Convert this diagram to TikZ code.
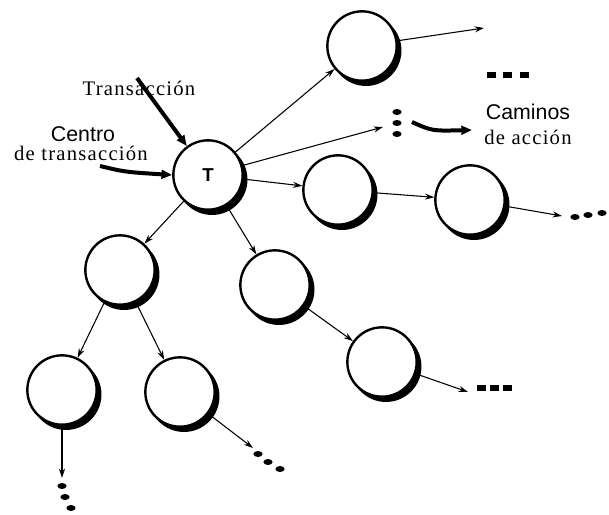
\documentclass[tikz,border=0pt]{standalone}
\usepackage{fontspec}
\setmainfont{Liberation Serif}
\setsansfont{Liberation Sans}
\usetikzlibrary{arrows.meta}

\tikzset{
  stn/.style={circle,draw,line width=1.8pt,fill=white,minimum size=52pt,inner sep=0pt},
  conn/.style={line width=0.8pt,-{Stealth[length=7pt,width=4.5pt]}},
  fat/.style={line width=3pt,-{Triangle[length=8pt,width=6.5pt]}},
  lbl/.style={inner sep=0pt,font=\fontsize{15.5}{16}\selectfont\addfontfeature{LetterSpace=6}},
  slbl/.style={inner sep=0pt,font=\sffamily\fontsize{16}{16}\selectfont},
}
\newcommand\tdot[1]{\fill #1 ellipse (4.6 and 3);}
\newcommand\tdash[1]{\fill #1 ++(-4.5,-3) rectangle ++(9,6);}

\begin{document}
\begin{tikzpicture}[x=0.75pt,y=-0.75pt]
\useasboundingbox (0,0) rectangle (609,514);

% states, each with its dark crescent behind
\foreach \n/\p/\s in {t/{(208,175)}/T, top/{(362,46)}/, r1/{(338,190)}/, r2/{(470,200)}/,
    l1/{(120,270)}/, m1/{(275,285)}/, ll/{(62,390)}/, lm/{(180,392)}/, m2/{(382,362)}/} {
  \fill \p ++(4,4.5) circle (26.6pt);
  \node[stn,font=\sffamily\bfseries\fontsize{14}{14}\selectfont] (\n) at \p {\s};
}

% open ends
\coordinate (vd) at (383,127);
\coordinate (topx) at (484,28);
\coordinate (r2x) at (562,216);
\coordinate (m2x) at (468,392);
\coordinate (llx) at (62,478);
\coordinate (lmx) at (253,448);

% labels
\node[lbl] (trn) at (139,88) {Transacción};
\node[slbl] (ctr) at (83,134) {Centro};
\node[lbl] (dtr) at (81,153) {de transacción};
\node[slbl] (cam) at (528,112) {Caminos};
\node[lbl] (dac) at (528,137) {de acción};

% connectors
\draw[conn] (t) -- (top);
\draw[conn] (t) -- (vd);
\draw[conn] (t) -- (r1);
\draw[conn] (r1) -- (r2);
\draw[conn] (t) -- (l1);
\draw[conn] (t) -- (m1);
\draw[conn] (l1) -- (ll);
\draw[conn] (l1) -- (lm);
\draw[conn] (m1) -- (m2);
\draw[conn] (top) -- (topx);
\draw[conn] (r2) -- (r2x);
\draw[conn] (m2) -- (m2x);
\draw[conn] (ll) -- (llx);
\draw[conn] (lm) -- (lmx);

% heavy pointers
\draw[fat] (137,78) -- (t);
\draw[fat] (100,166) .. controls (125,172) .. (t.west);
\draw[fat] (412,122) .. controls (432,131) .. (472,130);

% continuation marks
\tdot{(397,112)} \tdot{(397,123)} \tdot{(397,134)}
\tdot{(575,217)} \tdot{(588,215)} \tdot{(602,213)}
\tdot{(62,486)} \tdot{(65,497)} \tdot{(71,508)}
\tdot{(258,454)} \tdot{(268,462)} \tdot{(280,469)}
\tdash{(491,75)} \tdash{(507,75)} \tdash{(524,75)}
\tdash{(481,388)} \tdash{(494,388)} \tdash{(507,388)}
\end{tikzpicture}
\end{document}
